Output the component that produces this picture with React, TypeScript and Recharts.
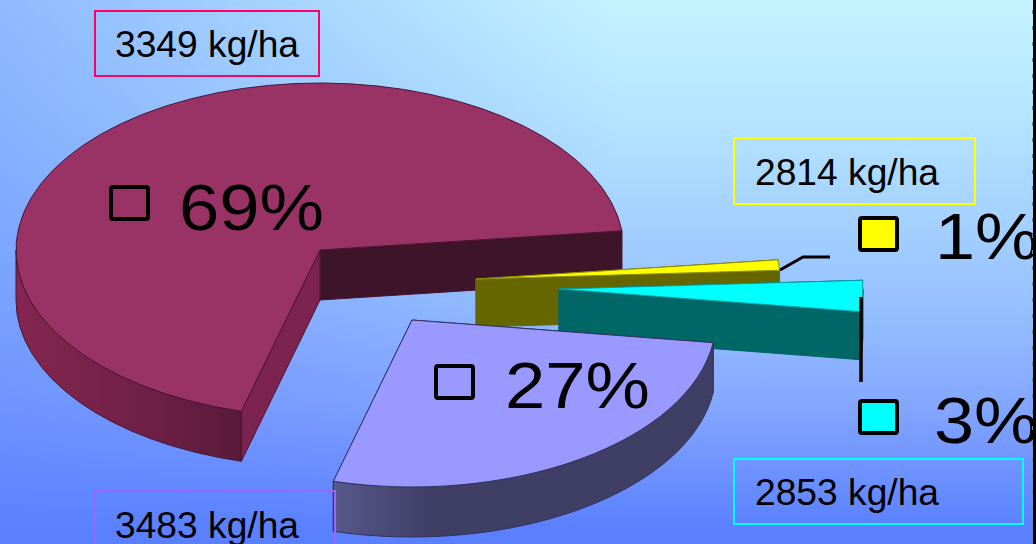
import { PieChart, Pie, Cell } from "recharts";

const categories = ["Maroon", "Yellow", "Cyan", "Lavender"];
const shares = [69, 1, 3, 27];
const yieldLabels = ["3349 kg/ha", "2814 kg/ha", "2853 kg/ha", "3483 kg/ha"];

const data = categories.map((name, i) => ({ name, value: shares[i] }));

const FONT = "'Liberation Sans', Arial, sans-serif";
const RX = 304;
const RY = 167;

// exploded offset of each slice from the pie centre
const explode = [
  [0, 0],
  [156, 29],
  [239, 39],
  [92, 70]
];
const depths = [50, 48, 48, 50];
const topFill = ["#993366", "#ffff00", "#00ffff", "#9999ff"];
const topEdge = ["#4a1630", "#8f8f00", "#00a0a0", "#33335c"];
const wallEdge = ["#4a1630", "#666600", "#006666", "#33335c"];
const wallFill = ["url(#wallMaroon)", "#666600", "#006666", "url(#wallLavender)"];
// walls at the low-angle and the high-angle edge of a slice
const edgeFill = [
  ["#3d1429", "#7d2350"],
  ["#666600", "#666600"],
  ["#006666", "#006666"],
  ["#3f3f66", "#3f3f66"]
];

const boxes = [
  { x: 95, y: 11, w: 224, h: 65, color: "#ff0066", tx: 115, ty: 57 },
  { x: 734, y: 138, w: 241, h: 66, color: "#ffff00", tx: 755, ty: 185 },
  { x: 734, y: 459, w: 289, h: 65, color: "#00ffff", tx: 755, ty: 505 },
  { x: 95, y: 491, w: 240, h: 70, color: "#9966ff", tx: 115, ty: 538 }
];
const keys = [
  { x: 111, y: 187, fill: "none", tx: 179, ty: 230, len: 145 },
  { x: 860, y: 218, fill: "#ffff00", tx: 935, ty: 259, len: 104 },
  { x: 860, y: 401, fill: "#00ffff", tx: 934, ty: 443, len: 104 },
  { x: 436, y: 366, fill: "none", tx: 505, ty: 408, len: 145 }
];

const SliceShape = (props: any) => {
  const { cx, cy, startAngle, endAngle, index } = props;
  const [ox, oy] = explode[index];
  const c = { x: cx + ox, y: cy + oy };
  const d = depths[index];
  const lo = Math.min(startAngle, endAngle);
  const hi = Math.max(startAngle, endAngle);
  const pt = (a: number, dy = 0) => {
    const r = (a * Math.PI) / 180;
    return `${c.x + RX * Math.cos(r)} ${c.y - RY * Math.sin(r) + dy}`;
  };
  const radialWall = (a: number) =>
    `M${c.x} ${c.y} L${pt(a)} L${pt(a, d)} L${c.x} ${c.y + d} Z`;

  const arcs: string[] = [];
  [-360, 0].forEach((k) => {
    const from = Math.max(lo, 180 + k);
    const to = Math.min(hi, 360 + k);
    if (to > from) {
      const large = to - from > 180 ? 1 : 0;
      arcs.push(
        `M${pt(from)} A${RX} ${RY} 0 ${large} 0 ${pt(to)} L${pt(to, d)} A${RX} ${RY} 0 ${large} 1 ${pt(from, d)} Z`
      );
    }
  });

  const large = hi - lo > 180 ? 1 : 0;
  const top = `M${c.x} ${c.y} L${pt(lo)} A${RX} ${RY} 0 ${large} 0 ${pt(hi)} Z`;

  return (
    <g>
      <path d={radialWall(lo)} fill={edgeFill[index][0]} stroke={wallEdge[index]} strokeWidth={1} />
      <path d={radialWall(hi)} fill={edgeFill[index][1]} stroke={wallEdge[index]} strokeWidth={1} />
      {arcs.map((p) => (
        <path key={p} d={p} fill={wallFill[index]} stroke={wallEdge[index]} strokeWidth={1} />
      ))}
      <path d={top} fill={topFill[index]} stroke={topEdge[index]} strokeWidth={1} />
    </g>
  );
};

const background = [
  "linear-gradient(90deg, rgba(90,128,255,0.5) 0px, rgba(90,128,255,0) 620px)",
  "linear-gradient(180deg, #c4f4ff 0px, #b4e4ff 120px, #99c4ff 290px, #85a8ff 400px, #5a80ff 530px, #5a80ff 544px)"
].join(", ");

export default function App() {
  return (
    <div
      style={{
        position: "fixed",
        left: 0,
        top: 0,
        width: 1036,
        height: 544,
        overflow: "hidden",
        background
      }}
    >
      <PieChart width={1036} height={544} margin={{ top: 0, right: 0, bottom: 0, left: 0 }}>
        <defs>
          <linearGradient id="wallMaroon" x1="0" y1="0" x2="1" y2="0">
            <stop offset="0%" stopColor="#852650" />
            <stop offset="60%" stopColor="#6d2045" />
            <stop offset="100%" stopColor="#591a38" />
          </linearGradient>
          <linearGradient id="wallLavender" x1="0" y1="0" x2="1" y2="0">
            <stop offset="0%" stopColor="#58588c" />
            <stop offset="25%" stopColor="#3f3f66" />
            <stop offset="100%" stopColor="#3f3f66" />
          </linearGradient>
        </defs>
        <Pie
          data={data}
          dataKey="value"
          nameKey="name"
          cx={320}
          cy={250}
          innerRadius={0}
          outerRadius={RX}
          startAngle={255}
          endAngle={-105}
          stroke="none"
          label={false}
          labelLine={false}
          shape={SliceShape}
          isAnimationActive={false}
        >
          {data.map((entry, i) => (
            <Cell key={entry.name} fill={topFill[i]} />
          ))}
        </Pie>
      </PieChart>

      {/* labels sit above the pie layer */}
      <svg width={1036} height={544} style={{ position: "absolute", left: 0, top: 0 }}>
        <polyline points="780,270 803,257 830,257" fill="none" stroke="#000" strokeWidth={3} />
        <line x1={861} y1={297} x2={861} y2={382} stroke="#000" strokeWidth={3.5} />

        {boxes.map((b, i) => (
          <g key={yieldLabels[i]}>
            <rect x={b.x} y={b.y} width={b.w} height={b.h} fill="none" stroke={b.color} strokeWidth={2} />
            <text x={b.tx} y={b.ty} fontFamily={FONT} fontSize={37} fill="#000" textLength={184} lengthAdjust="spacingAndGlyphs">
              {yieldLabels[i]}
            </text>
          </g>
        ))}

        {keys.map((k, i) => (
          <g key={categories[i]}>
            <rect x={k.x} y={k.y} width={37} height={32} rx={2} fill={k.fill} stroke="#000" strokeWidth={4} />
            <text x={k.tx} y={k.ty} fontFamily={FONT} fontSize={65} fill="#000" textLength={k.len} lengthAdjust="spacingAndGlyphs">
              {shares[i]}%
            </text>
          </g>
        ))}

        <line x1={1034.5} y1={0} x2={1034.5} y2={544} stroke="#000" strokeWidth={3} />
        <line x1={1032.5} y1={10} x2={1032.5} y2={544} stroke="#5f8f9f" strokeWidth={1} strokeDasharray="4 12" />
      </svg>
    </div>
  );
}
